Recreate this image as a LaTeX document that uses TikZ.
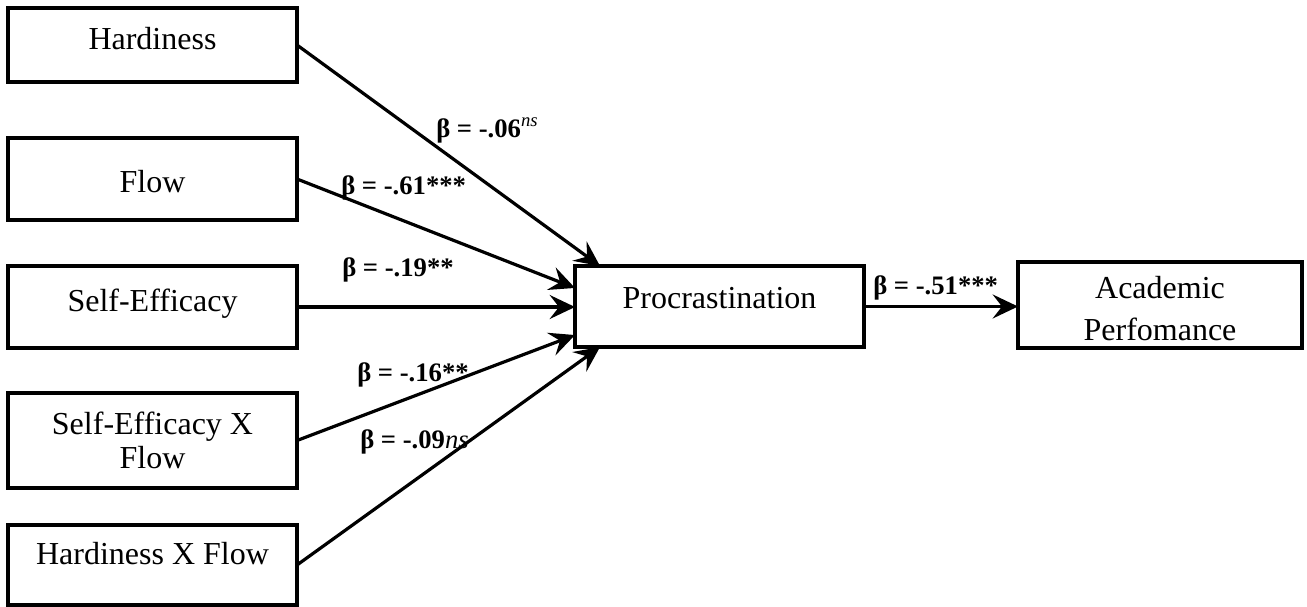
\documentclass[tikz,border=0pt]{standalone}
\usepackage{fontspec}
\setmainfont{Liberation Serif}
\usetikzlibrary{arrows.meta,calc}
\begin{document}
\begin{tikzpicture}[x=0.75pt,y=-0.75pt,
  box/.style={draw,line width=2.6pt,inner sep=0pt,outer sep=0pt,minimum width=216.75pt},
  txt/.style={font=\fontsize{24}{28}\selectfont,anchor=base,inner sep=0pt},
  lab/.style={font=\bfseries\fontsize{20}{23}\selectfont,anchor=base west,inner sep=0pt},
  arr/.style={line width=2.4pt,-{Stealth[length=19pt,width=18pt,inset=7pt]}}]
\useasboundingbox (0,0) rectangle (1307,607);
% boxes
\node[box,minimum height=55.5pt] (hard) at (152.5,45) {};
\node[box,minimum height=61.5pt] (flow) at (152.5,179) {};
\node[box,minimum height=61.5pt] (se) at (152.5,307) {};
\node[box,minimum height=71.25pt] (sexf) at (152.5,440.5) {};
\node[box,minimum height=60pt] (hxf) at (152.5,565) {};
\node[box,minimum height=60.75pt] (proc) at (719.5,306.5) {};
\node[box,minimum width=213pt,minimum height=64.5pt] (acad) at (1160,305) {};
% texts
\node[txt] (thard) at (152.5,49) {Hardiness};
\node[txt] (tflow) at (152.5,192) {Flow};
\node[txt] (tse) at (152.5,311) {Self-Efficacy};
\node[txt] (tsexf1) at (152.5,434) {Self-Efficacy X};
\node[txt] (tsexf2) at (152.5,468) {Flow};
\node[txt] (thxf) at (152.5,564) {Hardiness X Flow};
\node[txt] (tproc) at (719.5,308) {Procrastination};
\node[txt] (tacad1) at (1160,298) {Academic};
\node[txt] (tacad2) at (1160,340) {Perfomance};
% arrows
\draw[arr] (hard.east) -- ([xshift=18.75pt]proc.north west);
\draw[arr] (flow.east) -- ([yshift=13.9pt]proc.west);
\draw[arr] (se.east) -- (se.east -| proc.west);
\draw[arr] (sexf.east) -- ([yshift=-21.4pt]proc.west);
\draw[arr] (hxf.east) -- ([xshift=18.75pt]proc.south west);
\draw[arr] (proc.east) -- (proc.east -| acad.west);
% labels
\node[lab] (l1) at (436,137) {β = -.06\textsuperscript{\normalfont\itshape ns}};
\node[lab] (l2) at (341,194) {β = -.61***};
\node[lab] (l3) at (342,276) {β = -.19**};
\node[lab] (l4) at (357,381) {β = -.16**};
\node[lab] (l5) at (360,448) {β = -.09\textnormal{\itshape ns}};
\node[lab] (l6) at (873,294) {β = -.51***};
\end{tikzpicture}
\end{document}
